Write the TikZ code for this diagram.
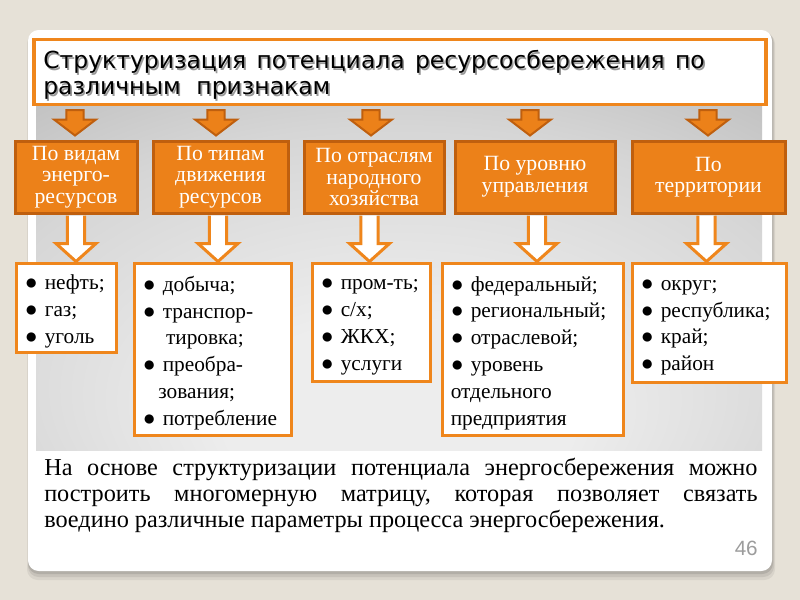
\documentclass[tikz,border=0pt]{standalone}
\usepackage{fontspec}
\setmainfont{Liberation Serif}
\newfontfamily\titlefont{DejaVu Sans}
\newfontfamily\numfont{Liberation Sans}
\usetikzlibrary{calc}
\definecolor{bg}{HTML}{E6E1D7}
\definecolor{orfill}{HTML}{EC8119}
\definecolor{ordark}{HTML}{BF5F0E}
\definecolor{orline}{HTML}{EF861C}
\definecolor{numgray}{HTML}{9C9C9C}
\definecolor{pcenter}{HTML}{EDEDED}
\definecolor{pmid}{HTML}{D6D6D6}
\definecolor{pedge}{HTML}{A0A0A0}
\pgfdeclareradialshading{panelshade}{\pgfpoint{0bp}{-25bp}}{%
  color(0bp)=(pcenter); color(12bp)=(pcenter); color(30bp)=(pmid);
  color(45bp)=(pedge!60!pmid); color(56bp)=(pedge); color(80bp)=(pedge)}
\newcommand{\sarrow}[2]{%
  \draw[sarrowstyle] let \p1=#1, \p2=#2 in
    (\x1-6.4pt,\y1) -- (\x1+6.4pt,\y1) -- (\x1+6.4pt,\y2+12pt) -- (\x1+15.75pt,\y2+12pt)
    -- (\x2,\y2) -- (\x1-15.75pt,\y2+12pt) -- (\x1-6.4pt,\y2+12pt) -- cycle;}
\newcommand{\barrow}[2]{%
  \draw[barrowstyle] let \p1=#1, \p2=#2 in
    (\x1-6.4pt,\y1) -- (\x1-6.4pt,\y2+13.5pt) -- (\x1-15pt,\y2+13.5pt) -- (\x2,\y2)
    -- (\x1+15pt,\y2+13.5pt) -- (\x1+6.4pt,\y2+13.5pt) -- (\x1+6.4pt,\y1);}
\newcommand{\titlelines}{%
  \hbox to 496pt{Структуризация\hfill потенциала\hfill ресурсосбережения\hfill по}\\различным\ \ признакам}
\begin{document}
\begin{tikzpicture}[x=0.75pt,y=-0.75pt,
  titlebox/.style={draw=orline, fill=white, line width=2.6pt, minimum width=549pt, minimum height=48.75pt, inner sep=0pt},
  titletext/.style={align=left, text width=535pt, inner sep=0pt, font=\titlefont\fontsize{17.6}{19.5}\selectfont},
  obox/.style={draw=ordark, fill=orfill, line width=2.25pt, text=white, align=center,
    font=\rmfamily\fontsize{16.3}{16.2}\selectfont, minimum height=54pt, inner sep=0pt},
  bbox/.style={draw=orline, fill=white, line width=2.25pt, inner sep=0pt},
  btext/.style={align=left, font=\rmfamily\fontsize{16}{20.1}\selectfont, inner sep=0pt},
  sarrowstyle/.style={fill=orfill, draw=ordark, line width=1.5pt, line join=miter},
  barrowstyle/.style={fill=white, draw=orline, line width=2.25pt, line join=miter},
  bodytext/.style={align=left, inner sep=0pt, font=\rmfamily\fontsize{18.2}{19.5}\selectfont},
]
\useasboundingbox (0,0) rectangle (800,600);
\fill[bg] (0,0) rectangle (800,600);
% card shadow
\fill[black, opacity=0.06, rounded corners=8pt] (27,33) rectangle (775,580);
\fill[black, opacity=0.08, rounded corners=8pt] (28,32) rectangle (774,577);
\fill[black, opacity=0.10, rounded corners=8pt] (28,31) rectangle (773,574);
\fill[white, rounded corners=8pt] (28,30) rectangle (772,571);
% gradient panel
\shade[shading=panelshade] (36,40) rectangle (762,450);

% title
\node[titlebox] (t) at (400,72) {};
\node[titletext, text=black!40] (tsh) at ($(t.center)+(1.6,4.6)$) {\titlelines};
\node[titletext] (tt) at ($(t.center)+(0,3)$) {\titlelines};

% orange category boxes
\node[obox, minimum width=91.5pt]  (o1) at (76,177)  {По видам\\энерго-\\ресурсов};
\node[obox, minimum width=101.25pt] (o2) at (220.5,177) {По типам\\движения\\ресурсов};
\node[obox, minimum width=105pt]   (o3) at (374,177) {По отраслям\\народного\\хозяйства};
\node[obox, minimum width=120pt]   (o4) at (535,177) {По уровню\\управления};
\node[obox, minimum width=114.75pt] (o5) at (708.5,177) {По\\территории};

% small arrows title -> boxes
\sarrow{($(t.south -| 75,0)+(0,4)$)}{($(o1.north -| 75,0)+(0,-4)$)}
\sarrow{($(t.south -| 216,0)+(0,4)$)}{($(o2.north -| 216,0)+(0,-4)$)}
\sarrow{($(t.south -| 371,0)+(0,4)$)}{($(o3.north -| 371,0)+(0,-4)$)}
\sarrow{($(t.south -| 530,0)+(0,4)$)}{($(o4.north -| 530,0)+(0,-4)$)}
\sarrow{($(t.south -| 708,0)+(0,4)$)}{($(o5.north -| 708,0)+(0,-4)$)}

% bullet boxes
\node[bbox, minimum width=75pt, minimum height=66.75pt] (b1) at (66,307.5) {};
\node[bbox, minimum width=117.75pt, minimum height=129pt] (b2) at (212.5,349) {};
\node[bbox, minimum width=88.5pt, minimum height=88.5pt] (b3) at (371,322) {};
\node[bbox, minimum width=135.75pt, minimum height=129pt] (b4) at (532.5,349) {};
\node[bbox, minimum width=115.5pt, minimum height=89.25pt] (b5) at (709,322.5) {};

\node[btext, text width=60pt, anchor=west] (b1t) at ($(b1.west)+(10,4)$)
  {● нефть;\\● газ;\\● уголь};
\node[btext, text width=102.75pt, anchor=west] (b2t) at ($(b2.west)+(10,4)$)
  {● добыча;\\● транспор-\\\phantom{● }\hspace{2.5pt}тировка;\\● преобра-\\\phantom{●}\hspace{2pt}зования;\\● потребление};
\node[btext, text width=73.5pt, anchor=west] (b3t) at ($(b3.west)+(10,5)$)
  {● пром-ть;\\● с/х;\\● ЖКХ;\\● услуги};
\node[btext, text width=120.75pt, anchor=west] (b4t) at ($(b4.west)+(10,4)$)
  {● федеральный;\\● региональный;\\● отраслевой;\\● уровень\\отдельного\\предприятия};
\node[btext, text width=100.5pt, anchor=west] (b5t) at ($(b5.west)+(10,5)$)
  {● округ;\\● республика;\\● край;\\● район};

% big arrows boxes -> lists
\barrow{($(o1.south)+(0,1)$)}{(o1.south |- b1.north)}
\barrow{($(o2.south)+(-2.5,1)$)}{($(o2.south |- b2.north)+(-2.5,0)$)}
\barrow{($(o3.south)+(-4.5,1)$)}{($(o3.south |- b3.north)+(-4.5,0)$)}
\barrow{($(o4.south)+(2,1)$)}{($(o4.south |- b4.north)+(2,0)$)}
\barrow{($(o5.south)+(-2,1)$)}{($(o5.south |- b5.north)+(-2,0)$)}

% bottom paragraph
\node[bodytext, anchor=north west] (p) at (44,457.5)
  {\hbox to 535pt{На\hfill основе\hfill структуризации\hfill потенциала\hfill энергосбережения\hfill можно}\\
   \hbox to 535pt{построить\hfill многомерную\hfill матрицу,\hfill которая\hfill позволяет\hfill связать}\\
   воедино различные параметры процесса энергосбережения.};

% page number
\node[anchor=east, inner sep=0pt, text=numgray, font=\numfont\fontsize{15.5}{16}\selectfont] (num) at (758,548) {46};
\end{tikzpicture}
\end{document}
